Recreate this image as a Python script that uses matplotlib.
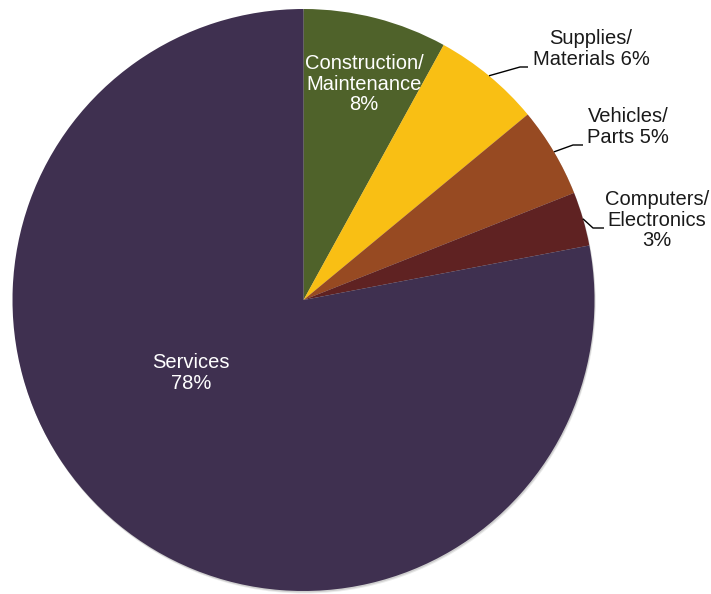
import numpy as np
import matplotlib
matplotlib.use('Agg')
import matplotlib.pyplot as plt
from matplotlib.patches import Circle

plt.rcParams['font.family'] = ['Liberation Sans', 'DejaVu Sans']

# spending share by category (percent)
categories = ['Construction/\nMaintenance', 'Supplies/\nMaterials', 'Vehicles/\nParts',
              'Computers/\nElectronics', 'Services']
shares = [8, 6, 5, 3, 78]
colors = ['#4f622a', '#f9bf14', '#974a22', '#5f2222', '#3f3050']

# canvas in pixel units, y pointing up
W, H = 711, 594
cx, cy, R = 303.5, 294, 291

fig = plt.figure(figsize=(W / 100, H / 100), dpi=100)
ax = fig.add_axes([0, 0, 1, 1])

# soft drop shadow under the pie
for off, a in [(2.5, 0.12), (1.5, 0.18)]:
    ax.add_patch(Circle((cx + off * 0.5, cy - off), R, color='#555555', alpha=a, lw=0, zorder=0))

wedges, _ = ax.pie(shares, colors=colors, startangle=90, counterclock=False,
                   center=(cx, cy), radius=R, frame=True,
                   wedgeprops=dict(linewidth=0), normalize=True)
ax.set_xlim(0, W)
ax.set_ylim(0, H)
ax.set_aspect('equal')
ax.axis('off')

def mid_edge(w):
    ang = np.deg2rad((w.theta1 + w.theta2) / 2)
    return cx + R * np.cos(ang), cy + R * np.sin(ang)

fs = 14.5
ls = 1.1
# labels inside the wedges
ax.text(364, 510, f'Construction/\nMaintenance\n{shares[0]}%', color='white', fontsize=fs,
        ha='center', va='center', linespacing=ls)
ax.text(191, 221, f'Services\n{shares[4]}%', color='white', fontsize=fs,
        ha='center', va='center', linespacing=ls)

# outside labels with bent leader lines
outside = [
    (1, 'Supplies/\nMaterials {}%', (520, 527), (528, 527), (591, 545)),
    (2, 'Vehicles/\nParts {}%', (573, 449), (583, 449), (628, 467)),
    (3, 'Computers/\nElectronics\n{}%', (593, 366), (604, 366), (657, 374)),
]
for i, txt, elbow, end, pos in outside:
    x0, y0 = mid_edge(wedges[i])
    ax.plot([x0, elbow[0], end[0]], [y0, elbow[1], end[1]], color='black', lw=1.0,
            solid_capstyle='butt', zorder=3)
    ax.text(pos[0], pos[1], txt.format(shares[i]), color='#1a1a1a', fontsize=fs,
            ha='center', va='center', linespacing=ls)

fig.savefig('out.png', dpi=100, facecolor='white')
